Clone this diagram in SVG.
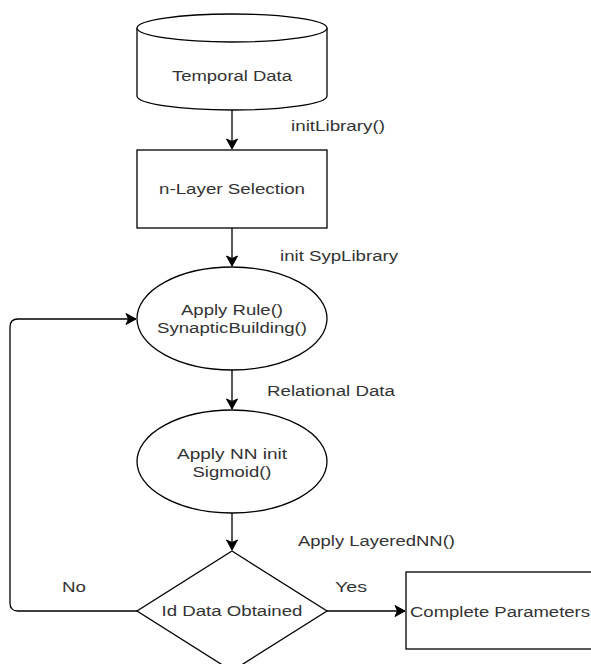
<svg xmlns="http://www.w3.org/2000/svg" width="591" height="664" viewBox="0 0 591 664">
  <style>
    .shape { fill: #ffffff; stroke: #000000; stroke-width: 1.3; }
    .edge { fill: none; stroke: #000000; stroke-width: 1.3; }
    text { font-family: "Liberation Sans", Arial, sans-serif; font-size: 14px; fill: #333333; }
    .c { text-anchor: middle; }
  </style>
  <defs>
    <marker id="arrow" markerUnits="userSpaceOnUse" markerWidth="14" markerHeight="14" viewBox="-11 -7 12 14" refX="0" refY="0" orient="auto">
      <path d="M -10 -5.5 L 0 0 L -10 5.5 L -7.5 0 Z" fill="#000000" stroke="#000000" stroke-width="1"/>
    </marker>
  </defs>
  <rect width="591" height="664" fill="#ffffff"/>

  <g id="connectors">
    <line class="edge" x1="232" y1="110" x2="232" y2="149" marker-end="url(#arrow)"/>
    <line class="edge" x1="232" y1="228" x2="232" y2="266" marker-end="url(#arrow)"/>
    <line class="edge" x1="232" y1="370" x2="232" y2="409" marker-end="url(#arrow)"/>
    <line class="edge" x1="232" y1="513" x2="232" y2="550" marker-end="url(#arrow)"/>
    <line class="edge" x1="327" y1="611" x2="405" y2="611" marker-end="url(#arrow)"/>
    <path class="edge" d="M 137 611 L 18 611 Q 10 611 10 603 L 10 327 Q 10 319 18 319 L 136 319" marker-end="url(#arrow)"/>
    <text x="291" y="131" textLength="94" lengthAdjust="spacingAndGlyphs">initLibrary()</text>
    <text x="280" y="261" textLength="118" lengthAdjust="spacingAndGlyphs">init SypLibrary</text>
    <text x="267" y="396" textLength="128" lengthAdjust="spacingAndGlyphs">Relational Data</text>
    <text x="298" y="546" textLength="157" lengthAdjust="spacingAndGlyphs">Apply LayeredNN()</text>
    <text x="62" y="592" textLength="24" lengthAdjust="spacingAndGlyphs">No</text>
    <text x="335" y="592" textLength="32" lengthAdjust="spacingAndGlyphs">Yes</text>
  </g>

  <g id="temporal-data">
    <path class="shape" d="M 137 28 L 137 96 A 95 14 0 0 0 327 96 L 327 28"/>
    <ellipse class="shape" cx="232" cy="28" rx="95" ry="14"/>
    <text class="c" x="232" y="81" textLength="120" lengthAdjust="spacingAndGlyphs">Temporal Data</text>
  </g>

  <g id="n-layer-selection">
    <rect class="shape" x="137" y="150" width="190" height="78"/>
    <text class="c" x="232" y="194" textLength="146" lengthAdjust="spacingAndGlyphs">n-Layer Selection</text>
  </g>

  <g id="apply-rule">
    <ellipse class="shape" cx="232" cy="318.5" rx="95" ry="51.5"/>
    <text class="c" x="232" y="315" textLength="102" lengthAdjust="spacingAndGlyphs">Apply Rule()</text>
    <text class="c" x="232" y="333" textLength="150" lengthAdjust="spacingAndGlyphs">SynapticBuilding()</text>
  </g>

  <g id="apply-nn">
    <ellipse class="shape" cx="232" cy="461.5" rx="95" ry="51.5"/>
    <text class="c" x="232" y="459" textLength="110" lengthAdjust="spacingAndGlyphs">Apply NN init</text>
    <text class="c" x="232" y="477" textLength="79" lengthAdjust="spacingAndGlyphs">Sigmoid()</text>
  </g>

  <g id="id-data-obtained">
    <polygon class="shape" points="232,551 327,611 232,671 137,611"/>
    <text class="c" x="232" y="616" textLength="141" lengthAdjust="spacingAndGlyphs">Id Data Obtained</text>
  </g>

  <g id="complete-parameters">
    <rect class="shape" x="406" y="572" width="190" height="77"/>
    <text x="410" y="617" textLength="180" lengthAdjust="spacingAndGlyphs">Complete Parameters</text>
  </g>
</svg>
